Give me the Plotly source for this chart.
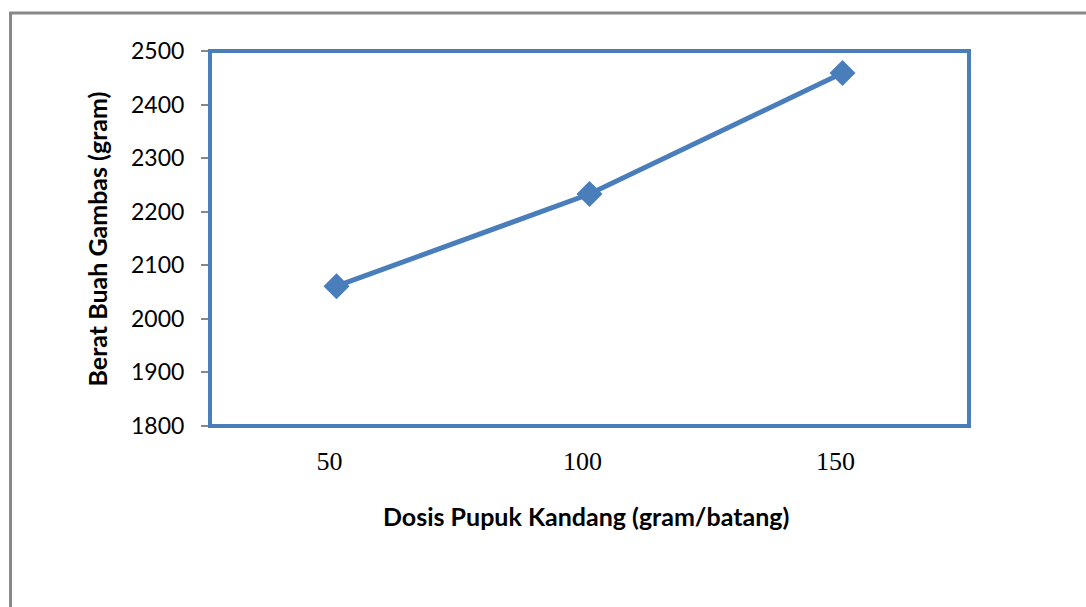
import plotly.graph_objects as go

doses = ["50", "100", "150"]
weights = [2061, 2233, 2459]
y_ticks = [1800, 1900, 2000, 2100, 2200, 2300, 2400, 2500]

BLUE = "#4A7EBB"
GRAY = "#888888"

fig = go.Figure()
fig.add_trace(go.Scatter(
    x=doses, y=weights, mode="lines+markers",
    line=dict(color=BLUE, width=5),
    marker=dict(symbol="diamond", size=20, color=BLUE),
    showlegend=False, cliponaxis=False,
))

fig.update_layout(
    width=1086, height=607,
    margin=dict(l=210, r=117, t=51, b=181),
    paper_bgcolor="white", plot_bgcolor="white",
    xaxis=dict(
        type="category", range=[-0.5, 2.5],
        showgrid=False, zeroline=False,
        showline=True, linecolor=GRAY, linewidth=2,
        ticks="", ticklabelstandoff=11, ticklabelshift=-7,
        tickfont=dict(family="Liberation Serif", size=26, color="black"),
    ),
    yaxis=dict(
        range=[1800, 2500], tickvals=y_ticks,
        showgrid=False, zeroline=False,
        showline=True, linecolor=GRAY, linewidth=2,
        ticks="outside", ticklen=7, tickcolor=GRAY, tickwidth=2,
        ticklabelstandoff=12,
        tickfont=dict(family="Lato", size=23, color="black"),
    ),
    shapes=[
        dict(type="rect", xref="paper", yref="paper", x0=0, x1=1, y0=0, y1=1,
             line=dict(color=BLUE, width=4), layer="above"),
        dict(type="rect", xref="paper", yref="paper",
             x0=-0.2628, x1=1.25, y0=-0.7, y1=1.1013,
             line=dict(color=GRAY, width=3), layer="below"),
    ],
    annotations=[
        dict(text="<b>Dosis Pupuk Kandang (gram/batang)</b>", xref="paper", yref="paper",
             x=0.4954, y=-0.24, xanchor="center", yanchor="middle", showarrow=False,
             font=dict(family="Lato", size=25, color="black")),
        dict(text="<b>Berat Buah Gambas (gram)</b>", xref="paper", yref="paper",
             x=-0.1489, y=0.5, xanchor="center", yanchor="middle",
             textangle=-90, showarrow=False,
             font=dict(family="Lato", size=25, color="black")),
    ],
)

fig.write_html("out.html")
